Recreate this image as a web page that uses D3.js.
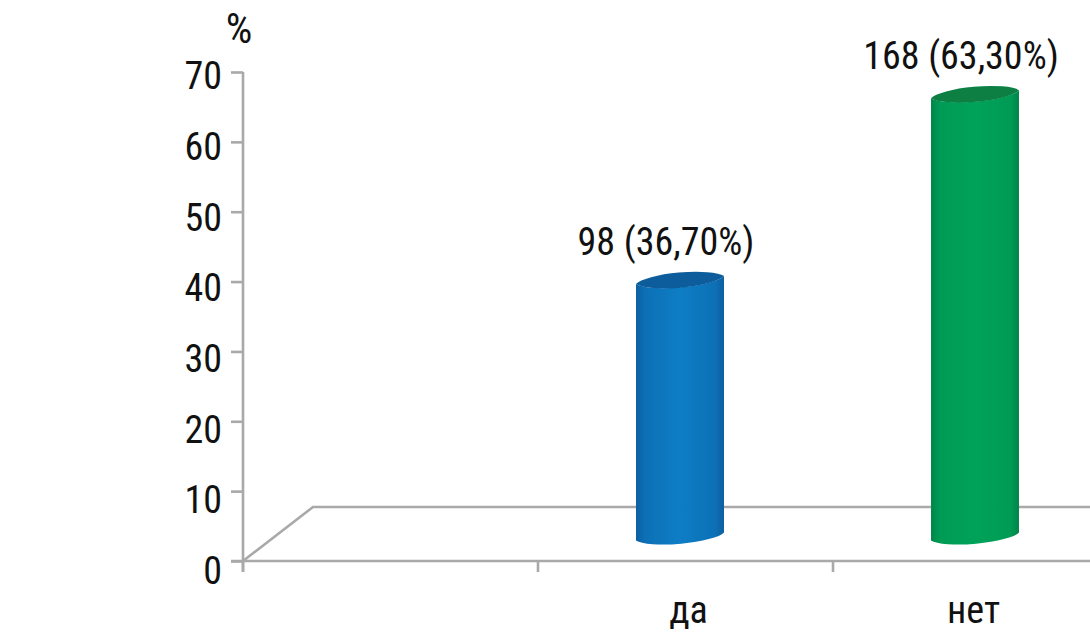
<!DOCTYPE html>
<html><head><meta charset="utf-8">
<script src="https://cdn.jsdelivr.net/npm/d3@7"></script>
<style>html,body{margin:0;background:#fff}svg{display:block}
text{font-family:"Roboto Condensed","Liberation Sans Narrow",Roboto,sans-serif;fill:#111}</style>
</head><body><svg id="c" width="1090" height="639"></svg>
<script>
const categories = ["", "да", "нет"];
const seriesValues = [null, 36.7, 63.3];
const valueLabels = ["", "98 (36,70%)", "168 (63,30%)"];
const yTicks = [0,10,20,30,40,50,60,70];
const barColors = {"да":["#0a5f9f","#0b7dc5","#0b70b6","#0a5c9b"],"нет":["#07854a","#00a25a","#009b55","#087f43"]};
const labelShift = {"да":3,"нет":-7};

const W=1090,H=639;
const svg=d3.select("#c");
const defs=svg.append("defs");
defs.append("filter").attr("id","soft").attr("filterUnits","userSpaceOnUse")
  .attr("x",-400).attr("y",-800).attr("width",W+800).attr("height",H+1600)
  .append("feGaussianBlur").attr("stdDeviation",0.6);
const x=d3.scaleBand().domain(categories).range([243,1128]);
const y=d3.scaleLinear().domain([0,70]).range([561,72]);
const yLabel=d3.scaleLinear().domain([0,70]).range([570,75]);
const grey="#a9a9a9";
const depth={x:70,y:54};
const fs=38;

// floor
const floor=svg.append("g").attr("filter","url(#soft)").attr("stroke",grey).attr("stroke-width",2.6).attr("fill","none");
floor.append("path").attr("d",d3.line()([[x.range()[0],y(0)],[x.range()[0]+depth.x,y(0)-depth.y],[W,y(0)-depth.y]]));

// y axis
const gy=svg.append("g").attr("transform",`translate(${x.range()[0]},0)`)
  .call(d3.axisLeft(y).tickValues(yTicks).tickSize(12).tickPadding(9).tickSizeOuter(0));
gy.attr("font-family",null).attr("font-size",null);
gy.select("path").attr("d",`M0,${y(70)}V${y(0)+11}`);
gy.selectAll("line,path").attr("stroke",grey).attr("stroke-width",2.6).attr("filter","url(#soft)");
gy.selectAll("text").attr("font-size",fs).attr("dy","0.36em").attr("fill","#111")
  .attr("y",d=>yLabel(d)-y(d));

// x axis
const gx=svg.append("g").attr("transform",`translate(0,${y(0)})`);
gx.append("line").attr("x1",x.range()[0]-12).attr("x2",W).attr("stroke",grey).attr("stroke-width",2.6).attr("filter","url(#soft)");
gx.selectAll("line.t").data(categories).join("line").attr("class","t")
  .attr("x1",d=>x(d)).attr("x2",d=>x(d)).attr("y1",0).attr("y2",11)
  .attr("stroke",grey).attr("stroke-width",2.6).attr("filter","url(#soft)");
gx.selectAll("text.c").data(categories).join("text").attr("class","c")
  .attr("x",d=>x(d)+x.bandwidth()/2+(labelShift[d]||0)).attr("y",62)
  .attr("text-anchor","middle").attr("font-size",fs).text(d=>d);

// bars
const barW=88, barDx=-5.5, rx=45.5, ry=9.5, tilt=4;
const baseY=y(0)-24.5;
const rows=categories.map((c,i)=>({c,v:seriesValues[i],l:valueLabels[i]})).filter(d=>d.v!=null);
rows.forEach((d,i)=>{
  const g=defs.append("linearGradient").attr("id","g"+i);
  const col=barColors[d.c];
  [[0,col[0]],[.1,col[2]],[.5,col[1]],[.9,col[2]],[1,col[0]]].forEach(s=>g.append("stop").attr("offset",s[0]).attr("stop-color",s[1]));
});
const bars=svg.append("g").attr("filter","url(#soft)");
rows.forEach((d,i)=>{
  const cx=x(d.c)+x.bandwidth()/2+barDx, l=cx-barW/2, r=cx+barW/2;
  const top=baseY-(y(0)-y(d.v));
  const arc=`A${rx} ${ry} -5 0 0`;
  bars.append("path").attr("fill",`url(#g${i})`)
    .attr("d",`M${l},${top+tilt}${arc} ${r},${top-tilt}L${r},${baseY-tilt}A${rx} ${ry} -5 0 1 ${l},${baseY+tilt}Z`);
  bars.append("path").attr("fill",barColors[d.c][3])
    .attr("d",`M${l},${top+tilt}A${rx} ${ry+0.5} -5 0 0 ${r},${top-tilt}A${rx} ${ry+0.5} -5 0 0 ${l},${top+tilt}Z`);
  svg.append("text").attr("x",cx-14).attr("y",top-25).attr("text-anchor","middle").attr("font-size",fs).text(d.l);
});
svg.append("text").attr("x",239).attr("y",43).attr("text-anchor","middle").attr("font-size",42).text("%");
</script></body></html>
